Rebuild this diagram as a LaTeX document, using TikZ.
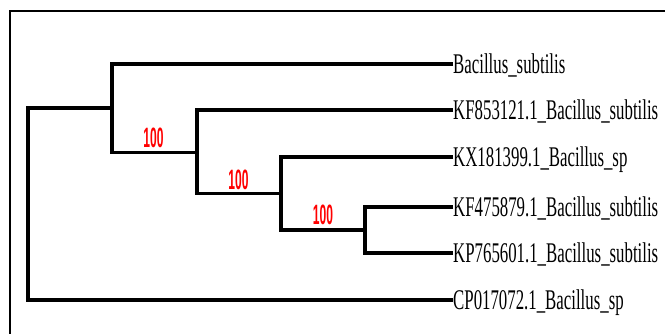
\documentclass[tikz,border=0pt]{standalone}
\usepackage{fontspec}
\setmainfont{Liberation Serif}
\newfontfamily\supportfont{Liberation Sans}

% condensed text for tip names and bootstrap values
\newcommand\tipname[1]{\scalebox{0.59}[1]{#1}}
\newcommand\bootval[1]{\scalebox{0.43}[1]{#1}}

\tikzset{
  branch/.style={line width=3.8pt, line join=miter, black},
  frameline/.style={line width=2.8pt, black},
  tiplabel/.style={anchor=base west, inner sep=0pt, yshift=-9.4pt,
                   font=\fontsize{28.5}{31}\selectfont},
  support/.style={anchor=base, inner sep=0pt, text=red,
                  font=\supportfont\bfseries\fontsize{28}{30}\selectfont},
}

\begin{document}
\begin{tikzpicture}[x=1pt, y=-1pt]
  \useasboundingbox (0,0) rectangle (665,333);

  % open frame: top and left edges
  \draw[frameline] (10,340) -- (10,11) -- (670,11);

  % tips
  \coordinate (t1) at (453,64);
  \coordinate (t2) at (453,110);
  \coordinate (t3) at (453,157);
  \coordinate (t4) at (453,207);
  \coordinate (t5) at (453,253);
  \coordinate (t6) at (453,300);

  % internal nodes (x of the vertical bar, y at the middle of its span)
  \coordinate (nD) at (365,230);
  \coordinate (nC) at (281,193.5);
  \coordinate (nB) at (197,152.5);
  \coordinate (nA) at (112,108);
  \coordinate (root) at (28,204);

  % branches
  \draw[branch] (t4) -| (nD) |- (t5);
  \draw[branch] (t3) -| (nC) |- (nD);
  \draw[branch] (t2) -| (nB) |- (nC);
  \draw[branch] (t1) -| (nA) |- (nB);
  \draw[branch] (nA) -| (root) |- (t6);

  % tip labels
  \node[tiplabel] (l1) at (t1) {\tipname{Bacillus\_subtilis}};
  \node[tiplabel] (l2) at (t2) {\tipname{KF853121.1\_Bacillus\_subtilis}};
  \node[tiplabel] (l3) at (t3) {\tipname{KX181399.1\_Bacillus\_sp}};
  \node[tiplabel] (l4) at (t4) {\tipname{KF475879.1\_Bacillus\_subtilis}};
  \node[tiplabel] (l5) at (t5) {\tipname{KP765601.1\_Bacillus\_subtilis}};
  \node[tiplabel] (l6) at (t6) {\tipname{CP017072.1\_Bacillus\_sp}};

  % bootstrap support values
  \node[support] (s1) at (153.5,147.5) {\bootval{100}};
  \node[support] (s2) at (238.5,189.5) {\bootval{100}};
  \node[support] (s3) at (323,224.5) {\bootval{100}};
\end{tikzpicture}
\end{document}
